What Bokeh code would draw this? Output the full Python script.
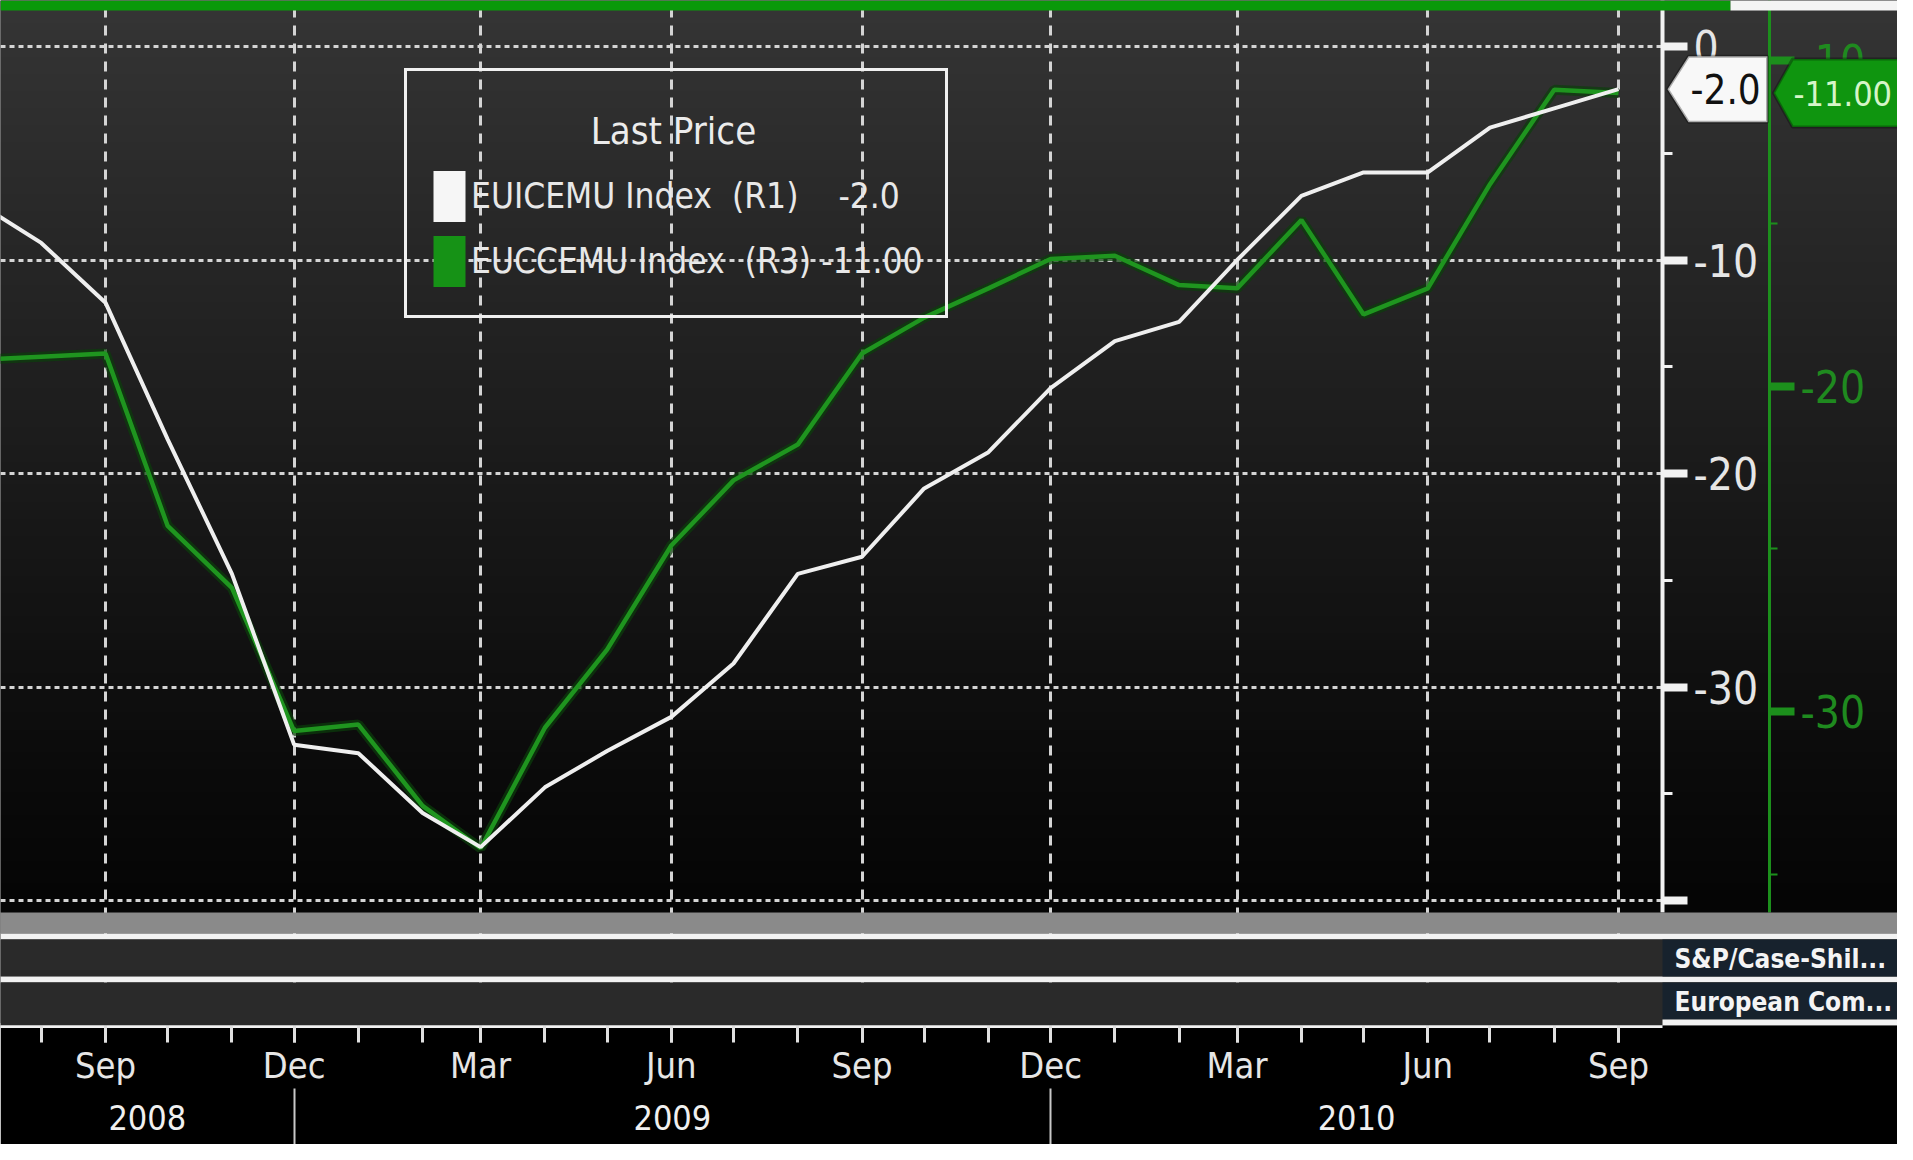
import numpy as np
import pandas as pd
from bokeh.plotting import figure
from bokeh.models import (Range1d, LinearAxis, DatetimeAxis, FixedTicker, DatetimeTickFormatter,
                          PrintfTickFormatter, Grid, BoxAnnotation, Label, Legend, LegendItem,
                          PolyAnnotation, ColumnDataSource)
from bokeh.embed import file_html
from bokeh.resources import INLINE

# ---------------- data ----------------
months = ["2008-07", "2008-08", "2008-09", "2008-10", "2008-11", "2008-12",
          "2009-01", "2009-02", "2009-03", "2009-04", "2009-05", "2009-06",
          "2009-07", "2009-08", "2009-09", "2009-10", "2009-11", "2009-12",
          "2010-01", "2010-02", "2010-03", "2010-04", "2010-05", "2010-06",
          "2010-07", "2010-08", "2010-09"]
# EUICEMU Index (R1) - industrial confidence, white line
euicemu = [-7.3, -9.2, -12.0, -18.4, -24.7, -32.7,
           -33.1, -35.9, -37.5, -34.7, -33.0, -31.4,
           -28.9, -24.7, -23.9, -20.7, -19.0, -16.0,
           -13.8, -12.9, -10.0, -7.0, -5.9, -5.9,
           -3.8, -2.9, -2.0]
# EUCCEMU Index (R3) - consumer confidence, green line
euccemu = [-19.2, -19.1, -19.0, -24.3, -26.2, -30.6,
           -30.4, -32.9, -34.2, -30.5, -28.1, -24.9,
           -22.9, -21.8, -19.0, -17.9, -17.0, -16.1,
           -16.0, -16.9, -17.0, -14.9, -17.8, -17.0,
           -13.8, -10.9, -11.0]
series_names = ["EUICEMU Index", "EUCCEMU Index"]
series_axes = ["(R1)", "(R3)"]
legend_title = "Last Price"
r1_ticks = [0, -10, -20, -30, -40]
r1_minor = [-5, -15, -25, -35]
r3_ticks = [-10, -20, -30]
r3_minor = [-15, -25, -35]
side_labels = ["S&P/Case-Shil...", "European Com..."]

# ---------------- geometry (px of the reference picture) ----------------
FONT = "'Liberation Sans Narrow', 'DejaVu Sans Condensed', 'Liberation Sans', sans-serif"
EPOCH = pd.Timestamp("1970-01-01")


def ms(ts):
    return (pd.Timestamp(ts) - EPOCH) / pd.Timedelta(milliseconds=1)


dates = pd.to_datetime(months)
date_ms = [ms(d) for d in dates]

X_A, PX_A = ms("2008-09-01"), 105.0
X_B, PX_B = ms("2010-09-01"), 1618.0
MS_PER_PX = (X_B - X_A) / (PX_B - PX_A)


def x_at(px):
    return X_A + (px - PX_A) * MS_PER_PX


W0_PX, W_PER = 46.0, 21.35       # white scale: 0 at px 46


def w_at(py):
    return -(py - W0_PX) / W_PER


def w_px(v):
    return W0_PX - v * W_PER


G20_PX, G_PER = 385.5, 32.55     # green scale: -20 at px 385.5


def g_at(py):
    return -20 - (py - G20_PX) / G_PER


def g_px(v):
    return G20_PX - (v + 20) * G_PER


L, R, T, B = 0, 1897, 0, 1025
AX_W = 1662      # white axis
AX_G = 1769      # green axis
PANEL_TOP = 912

p = figure(frame_width=R - L, frame_height=B - T,
           x_range=Range1d(x_at(L), x_at(R)), y_range=Range1d(w_at(B), w_at(T)),
           x_axis_type="datetime", x_axis_location=None, y_axis_location=None,
           toolbar_location=None, output_backend="svg", min_border=0,
           min_border_bottom=1144 - B,
           background_fill_color="black", border_fill_color="black",
           outline_line_color=None)
p.center = [r for r in p.center if not isinstance(r, Grid)]
p.extra_y_ranges = {"green": Range1d(g_at(B), g_at(T))}

# background gradient
n = 160
t = np.linspace(0.0, 1.0, n)
lev = (5 + 48 * t ** 1.1).astype(np.uint8)
img = np.empty((n, 1), dtype=np.uint32)
view = img.view(dtype=np.uint8).reshape((n, 1, 4))
view[:, 0, 0] = lev
view[:, 0, 1] = lev
view[:, 0, 2] = lev
view[:, 0, 3] = 255
p.image_rgba(image=[img], x=x_at(L), y=w_at(PANEL_TOP), dw=x_at(AX_W) - x_at(L),
             dh=w_at(T) - w_at(PANEL_TOP), level="image")
p.image_rgba(image=[img], x=x_at(AX_W), y=w_at(PANEL_TOP), dw=x_at(R) - x_at(AX_W),
             dh=w_at(T) - w_at(PANEL_TOP), level="glyph")

# grids
quarter_ms = [m for d, m in zip(dates, date_ms) if d.month in (3, 6, 9, 12)]
x_ticker = FixedTicker(ticks=quarter_ms, minor_ticks=date_ms)
w_ticker = FixedTicker(ticks=r1_ticks, minor_ticks=r1_minor)
g_ticker = FixedTicker(ticks=r3_ticks, minor_ticks=r3_minor)

p.add_layout(Grid(dimension=1, ticker=w_ticker, grid_line_color="#d4d4d4",
                  grid_line_width=3, grid_line_dash="5 4"))
p.add_layout(Grid(dimension=0, ticker=x_ticker, grid_line_color="#d4d4d4",
                  grid_line_width=3, grid_line_dash="10 8"))

# data lines
src = ColumnDataSource(dict(date=dates, r1=euicemu, r3=euccemu))
p.line("date", "r3", source=src, y_range_name="green", color="#0b3f0b", line_width=10, line_alpha=0.7)
p.line("date", "r3", source=src, y_range_name="green", color="#1f951f", line_width=4.5)
p.line("date", "r1", source=src, color="#efefef", line_width=4)
# zero-height areas: used only for the filled legend swatches
sw1 = p.varea("date", "r1", "r1", source=src, fill_color="#f6f6f6")
sw2 = p.varea("date", "r3", "r3", source=src, y_range_name="green", fill_color="#169216")

# right axes (fixed at their positions)
ifmt = PrintfTickFormatter(format="%d")
w_axis = LinearAxis(ticker=w_ticker, formatter=ifmt, fixed_location=x_at(AX_W),
                    bounds=(w_at(PANEL_TOP), w_at(T)),
                    axis_line_color="#f2f2f2", axis_line_width=4,
                    major_tick_out=25, major_tick_in=0, major_tick_line_width=8,
                    major_tick_line_color="#f2f2f2",
                    minor_tick_out=10, minor_tick_in=0, minor_tick_line_width=3,
                    minor_tick_line_color="#f2f2f2",
                    major_label_overrides={-40: ""},
                    major_label_standoff=6, major_label_text_font=FONT,
                    major_label_text_font_size="44px", major_label_text_color="#e6e6e6")
p.add_layout(w_axis, "right")

g_axis = LinearAxis(y_range_name="green", ticker=g_ticker, formatter=ifmt,
                    fixed_location=x_at(AX_G), bounds=(g_at(PANEL_TOP), g_at(T)),
                    axis_line_color="#1c8f1c", axis_line_width=3,
                    major_tick_out=25, major_tick_in=0, major_tick_line_width=8,
                    major_tick_line_color="#1c8f1c",
                    minor_tick_out=8, minor_tick_in=0, minor_tick_line_width=2,
                    minor_tick_line_color="#1c8f1c",
                    major_label_standoff=6, major_label_text_font=FONT,
                    major_label_text_font_size="44px", major_label_text_color="#1f8a1f")
p.add_layout(g_axis, "right")

# bottom axes: months and years
mfmt = DatetimeTickFormatter(microseconds="%b", milliseconds="%b", seconds="%b", minsec="%b",
                             minutes="%b", hourmin="%b", hours="%b", days="%b",
                             months="%b", years="%b")
m_axis = DatetimeAxis(ticker=x_ticker, formatter=mfmt, bounds=(x_at(L), x_at(AX_W)),
                      axis_line_color="#f2f2f2", axis_line_width=5,
                      major_tick_out=17, major_tick_in=0, major_tick_line_width=3,
                      major_tick_line_color="#e0e0e0",
                      minor_tick_out=17, minor_tick_in=0, minor_tick_line_width=3,
                      minor_tick_line_color="#e0e0e0",
                      major_label_standoff=2, major_label_text_font=FONT,
                      major_label_text_font_size="36px", major_label_text_color="#e6e6e6")
p.add_layout(m_axis, "below")

sep_ms = [m for d, m in zip(dates, date_ms) if d.month == 12]
edges = [x_at(L)] + sep_ms + [x_at(AX_W)]
year_pos = [(a + b) / 2 for a, b in zip(edges[:-1], edges[1:])]
yfmt = DatetimeTickFormatter(microseconds="%Y", milliseconds="%Y", seconds="%Y", minsec="%Y",
                             minutes="%Y", hourmin="%Y", hours="%Y", days="%Y",
                             months="%Y", years="%Y")
y_axis2 = DatetimeAxis(ticker=FixedTicker(ticks=year_pos, minor_ticks=sep_ms), formatter=yfmt,
                       axis_line_color=None, major_tick_out=0, major_tick_in=0,
                       minor_tick_out=60, minor_tick_in=0, minor_tick_line_width=2,
                       minor_tick_line_color="#c8c8c8",
                       major_label_standoff=-44, major_label_text_font=FONT,
                       major_label_text_font_size="34px", major_label_text_color="#f0f0f0")
p.add_layout(y_axis2, "below")


# lower panels (inside the frame)
def band(top_px, bot_px, color, left=None, right=None):
    p.add_layout(BoxAnnotation(top=w_at(top_px), bottom=w_at(bot_px), left=left, right=right,
                               fill_color=color, fill_alpha=1.0, line_color=None))


band(PANEL_TOP, 933, "#8a8a8a")
band(933, 939, "#f2f2f2")
band(939, 976, "#2a2a2a")
band(976, 982, "#f2f2f2")
band(982, 1025, "#2a2a2a")
band(939, 976, "#17222d", left=x_at(AX_W))
band(982, 1019, "#17222d", left=x_at(AX_W))
band(1019, 1025, "#f2f2f2", left=x_at(AX_W))
for txt, cy in zip(side_labels, [958, 1001]):
    p.add_layout(Label(x=x_at(1674), y=w_at(cy), text=txt, text_font=FONT,
                       text_font_size="26px", text_font_style="bold", text_color="#f4f4f4",
                       text_baseline="middle", text_align="left"))

# top strip
band(T, 10, "#0a990a", right=x_at(1730))
band(T, 10, "#f4f4f4", left=x_at(1730))

# last-value tags
last_w, last_g = euicemu[-1], euccemu[-1]
wy = w_px(last_w)
p.add_layout(PolyAnnotation(xs=[x_at(1667), x_at(1688), x_at(1767), x_at(1767), x_at(1688)],
                            ys=[w_at(wy), w_at(wy - 33), w_at(wy - 33), w_at(wy + 33), w_at(wy + 33)],
                            fill_color="#f8f8f8", fill_alpha=1.0, line_color="#000000", line_width=3))
gy = g_px(last_g)
p.add_layout(PolyAnnotation(xs=[x_at(1773), x_at(1792), x_at(1930), x_at(1930), x_at(1792)],
                            ys=[w_at(gy), w_at(gy - 34), w_at(gy - 34), w_at(gy + 34), w_at(gy + 34)],
                            fill_color="#0f950f", fill_alpha=1.0, line_color="#000000", line_width=3))
p.add_layout(Label(x=x_at(1690), y=last_w, text=f"{last_w:.1f}", text_font=FONT,
                   text_font_size="40px", text_color="#111111",
                   text_baseline="middle", text_align="left"))
p.add_layout(Label(x=x_at(1793), y=last_g, y_range_name="green", text=f"{last_g:.2f}",
                   text_font=FONT, text_font_size="34px", text_color="#d6f5c8",
                   text_baseline="middle", text_align="left"))

# legend (its title text is drawn as a label so it can sit lower in the box)
NB = "\u00a0"
lab1 = f"{series_names[0]}{NB*2}{series_axes[0]}{NB*4}{last_w:.1f}"
lab2 = f"{series_names[1]}{NB*2}{series_axes[1]}{NB}{last_g:.2f}"
legend = Legend(items=[LegendItem(label=lab1, renderers=[sw1]),
                       LegendItem(label=lab2, renderers=[sw2])],
                title=NB, location=(404, 707), margin=0, padding=22,
                spacing=1, glyph_width=40, glyph_height=64, label_height=64,
                label_standoff=2, title_standoff=27,
                border_line_color="#f0f0f0", border_line_width=3, border_line_alpha=1.0,
                background_fill_color="#1a1a1a", background_fill_alpha=0.0,
                label_text_font=FONT, label_text_font_size="35px", label_text_color="#e8e8e8",
                title_text_font=FONT, title_text_font_size="38px", title_text_font_style="normal",
                title_text_color="#e8e8e8")
p.add_layout(legend)
p.add_layout(Label(x=x_at(673), y=w_at(130), text=legend_title, text_font=FONT,
                   text_font_size="38px", text_color="#ececec", level="overlay",
                   text_baseline="middle", text_align="center"))

open("out.html", "w").write(file_html(p, INLINE))
